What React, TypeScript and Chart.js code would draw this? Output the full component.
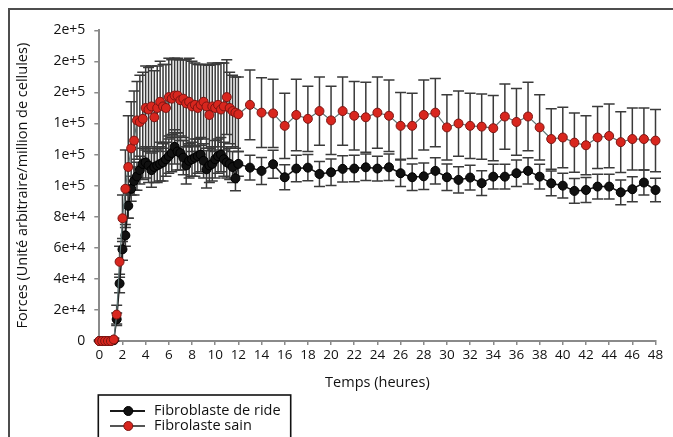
import React, { useEffect, useRef } from 'react';
import { Chart, registerables } from 'chart.js';

Chart.register(...registerables);

// Time points (hours): every 15 min up to 11.75 h, then hourly
const hours = [
  0, 0.25, 0.5, 0.75, 1, 1.25, 1.5, 1.75, 2, 2.25, 2.5, 2.75,
  3, 3.25, 3.5, 3.75, 4, 4.25, 4.5, 4.75, 5, 5.25, 5.5, 5.75,
  6, 6.25, 6.5, 6.75, 7, 7.25, 7.5, 7.75, 8, 8.25, 8.5, 8.75,
  9, 9.25, 9.5, 9.75, 10, 10.25, 10.5, 10.75, 11, 11.25, 11.5, 11.75,
  12, 13, 14, 15, 16, 17, 18, 19, 20, 21, 22, 23, 24, 25, 26, 27, 28, 29, 30,
  31, 32, 33, 34, 35, 36, 37, 38, 39, 40, 41, 42, 43, 44, 45, 46, 47, 48,
];

// Fibroblaste de ride (black)
const rideValues = [
  0, 0, 0, 0, 0, 500, 14000, 37000, 59000, 68000, 87000, 98000,
  103000, 106000, 110000, 114000, 115000, 113000, 110000, 112000, 113000, 114000, 115000, 117000,
  119000, 121000, 125000, 122000, 121000, 118000, 113000, 116000, 117000, 118000, 119000, 120000,
  116000, 110500, 113000, 114000, 117000, 119000, 120000, 117000, 115000, 114000, 112000, 104700,
  114000, 111600, 109500, 113800, 105400, 111000, 111600, 107500, 108600, 110800, 111000, 111800, 111000,
  111800, 108000, 105400, 106000, 109500, 105400, 103700, 105200, 101600, 105800, 105800, 108000,
  109500, 105800, 101500, 100000, 96600, 97200, 99400, 99400, 95700, 97700, 102000, 97200,
];
const rideErrors = [
  500, 500, 500, 500, 500, 800, 4000, 6000, 7000, 7000, 8000, 8000,
  9000, 9000, 9000, 10000, 10000, 11000, 11000, 10000, 11000, 11000, 12000, 11000,
  11000, 12000, 11000, 12000, 11000, 11000, 12000, 11000, 11000, 12000, 11000, 11000,
  11000, 12000, 11000, 11000, 12000, 11000, 11000, 11000, 10000, 10000, 10000, 8000,
  8000, 8000, 8700, 9000, 8000, 8500, 8500, 8000, 8500, 8500, 8500, 8500, 8000,
  8500, 8500, 8500, 8500, 8500, 8500, 8500, 8000, 8000, 8000, 8000, 8500,
  8500, 8000, 8000, 8000, 8000, 8000, 8000, 8000, 8000, 8000, 8000, 7500,
];

// Fibrolaste sain (red)
const sainValues = [
  0, 0, 0, 0, 0, 1000, 17000, 51000, 79000, 98000, 112000, 124000,
  129000, 142000, 141000, 143000, 150000, 149000, 151000, 144000, 150000, 154000, 151000, 150000,
  157000, 156000, 158000, 158000, 155000, 156000, 153000, 154000, 151000, 152000, 150000, 152000,
  154000, 151000, 145500, 151000, 150000, 152000, 149000, 151000, 157000, 150000, 148000, 147000,
  146000, 152000, 147000, 146500, 138500, 145500, 143000, 148000, 142000, 148000, 145000, 144000, 147000,
  145000, 138500, 138500, 145500, 147000, 137500, 140000, 138500, 138000, 137000, 144500, 141000,
  144500, 137500, 130000, 131000, 127700, 126000, 131000, 132000, 128000, 130000, 130000, 129000,
];
const sainErrors = [
  500, 500, 500, 500, 500, 1000, 6000, 10000, 15000, 25000, 33000, 30000,
  32000, 25000, 30000, 30000, 27000, 27000, 26000, 30000, 27000, 26000, 27000, 28000,
  25000, 25000, 24000, 24000, 26000, 25000, 28000, 28000, 29000, 27000, 28000, 26000,
  24000, 27000, 32000, 28000, 28000, 27000, 30000, 28000, 24000, 23000, 23000, 23000,
  24000, 22500, 22500, 22000, 21000, 23000, 21000, 22000, 22000, 22000, 22000, 22500, 23000,
  23000, 21500, 21000, 22500, 22000, 21000, 21000, 21000, 21000, 21000, 21000, 21500,
  22000, 21000, 19500, 19500, 19000, 19000, 20000, 20500, 19500, 20000, 20000, 20000,
];

const yTickLabels = ['0', '2e+4', '4e+4', '6e+4', '8e+4', '1e+5', '1e+5', '1e+5', '2e+5', '2e+5', '2e+5'];
const xTickLabels = ['0', '2', '4', '6', '8', '10', '12', '14', '16', '18', '20', '22', '24', '26', '28', '30', '32', '34', '36', '38', '40', '42', '44', '46', '48'];
const seriesLabels = ['Fibroblaste de ride', 'Fibrolaste sain'];
const xTitle = 'Temps (heures)';
const yTitle = 'Forces (Unité arbitraire/million de cellules)';

const FONT = "'Open Sans', 'DejaVu Sans', sans-serif";

const toPoints = (vals: number[]) => vals.map((v, i) => ({ x: hours[i], y: v }));

const errorBarPlugin = {
  id: 'errorBars',
  beforeDatasetsDraw(chart: any) {
    const { ctx } = chart;
    const xs = chart.scales.x;
    const ys = chart.scales.y;
    const cap = 5.5;
    ctx.save();
    ctx.strokeStyle = '#3a3a3a';
    ctx.lineWidth = 1.5;
    chart.data.datasets.forEach((ds: any) => {
      const errs: number[] = ds.errorValues || [];
      ds.data.forEach((pt: any, i: number) => {
        const e = errs[i] || 0;
        const px = xs.getPixelForValue(pt.x);
        const top = ys.getPixelForValue(pt.y + e);
        const bot = ys.getPixelForValue(Math.max(0, pt.y - e));
        ctx.beginPath();
        ctx.moveTo(px, top);
        ctx.lineTo(px, bot);
        ctx.moveTo(px - cap, top);
        ctx.lineTo(px + cap, top);
        ctx.moveTo(px - cap, bot);
        ctx.lineTo(px + cap, bot);
        ctx.stroke();
      });
    });
    ctx.restore();
  },
};

const legendBoxPlugin = {
  id: 'legendBox',
  afterDraw(chart: any) {
    const { ctx } = chart;
    const left = 88.3;
    const top = 385;
    ctx.save();
    ctx.strokeStyle = '#111';
    ctx.lineWidth = 1.6;
    ctx.strokeRect(left, top, 192.4, 60);
    const entries = [
      { label: seriesLabels[0], line: '#1a1a1a', fill: '#111111', border: '#000000' },
      { label: seriesLabels[1], line: '#555555', fill: '#d8261e', border: '#7d1512' },
    ];
    entries.forEach((en, k) => {
      const y = 401 + k * 15;
      ctx.strokeStyle = en.line;
      ctx.lineWidth = 2;
      ctx.beginPath();
      ctx.moveTo(100, y);
      ctx.lineTo(135, y);
      ctx.stroke();
      ctx.beginPath();
      ctx.arc(118.3, y, 4.5, 0, Math.PI * 2);
      ctx.fillStyle = en.fill;
      ctx.fill();
      ctx.strokeStyle = en.border;
      ctx.lineWidth = 1;
      ctx.stroke();
      ctx.fillStyle = '#111';
      ctx.font = `14.5px ${FONT}`;
      ctx.textAlign = 'left';
      ctx.textBaseline = 'middle';
      ctx.fillText(en.label, 144, y);
    });
    ctx.restore();
  },
};

export default function App() {
  const canvasRef = useRef<HTMLCanvasElement | null>(null);

  useEffect(() => {
    if (!canvasRef.current) return;
    const chart = new Chart(canvasRef.current, {
      type: 'line',
      data: {
        datasets: [
          {
            label: seriesLabels[1],
            data: toPoints(sainValues),
            errorValues: sainErrors,
            borderColor: '#5f7373',
            borderWidth: 1.2,
            backgroundColor: '#d8261e',
            pointBackgroundColor: '#d8261e',
            pointBorderColor: '#7d1512',
            pointBorderWidth: 1,
            pointRadius: 4.5,
            tension: 0,
            clip: false,
          } as any,
          {
            label: seriesLabels[0],
            data: toPoints(rideValues),
            errorValues: rideErrors,
            borderColor: '#1a1a1a',
            borderWidth: 1.5,
            backgroundColor: '#111111',
            pointBackgroundColor: '#111111',
            pointBorderColor: '#000000',
            pointBorderWidth: 1,
            pointRadius: 4.5,
            tension: 0,
            clip: false,
          } as any,
        ],
      },
      options: {
        responsive: false,
        animation: false,
        devicePixelRatio: 1,
        layout: { padding: { left: 0, top: 20.3, right: 17.5, bottom: 0 } },
        plugins: { legend: { display: false }, tooltip: { enabled: false } },
        scales: {
          x: {
            type: 'linear',
            min: 0,
            max: 48,
            grid: { display: true, drawOnChartArea: false, drawTicks: true, tickLength: 4, color: '#8a8a8a', lineWidth: 1.5 },
            border: { display: true, color: '#8a8a8a', width: 2 },
            ticks: {
              stepSize: 2,
              padding: 2,
              maxRotation: 0,
              autoSkip: false,
              color: '#111',
              font: { family: FONT, size: 13.5 },
              callback: (_v: any, i: number) => xTickLabels[i],
            },
            title: {
              display: true,
              text: xTitle,
              color: '#111',
              font: { family: FONT, size: 14.5 },
              padding: { top: 0, bottom: 45 },
            },
            afterFit: (s: any) => { s.height = 96; },
          },
          y: {
            type: 'linear',
            min: 0,
            max: 200000,
            grid: { display: true, drawOnChartArea: false, drawTicks: true, tickLength: 5, color: '#8a8a8a', lineWidth: 1.5 },
            border: { display: true, color: '#8a8a8a', width: 2 },
            ticks: {
              stepSize: 20000,
              padding: 9,
              autoSkip: false,
              color: '#111',
              font: { family: FONT, size: 14 },
              callback: (_v: any, i: number) => yTickLabels[i],
            },
            title: {
              display: true,
              text: yTitle,
              color: '#111',
              font: { family: FONT, size: 14.5 },
              padding: { top: 4, bottom: 0 },
            },
            afterFit: (s: any) => { s.width = 89.3; },
          },
        },
      } as any,
      plugins: [errorBarPlugin, legendBoxPlugin],
    });
    return () => chart.destroy();
  }, []);

  return (
    <div style={{ position: 'fixed', left: 0, top: 0, width: 673, height: 437, overflow: 'hidden', background: '#fff' }}>
      <div
        style={{
          position: 'absolute',
          left: 8,
          top: 8,
          width: 720,
          height: 480,
          borderTop: '2px solid #4d4d4d',
          borderLeft: '2px solid #4d4d4d',
        }}
      />
      <canvas ref={canvasRef} width={663} height={427} style={{ position: 'absolute', left: 10, top: 10, width: 663, height: 427 }} />
    </div>
  );
}
